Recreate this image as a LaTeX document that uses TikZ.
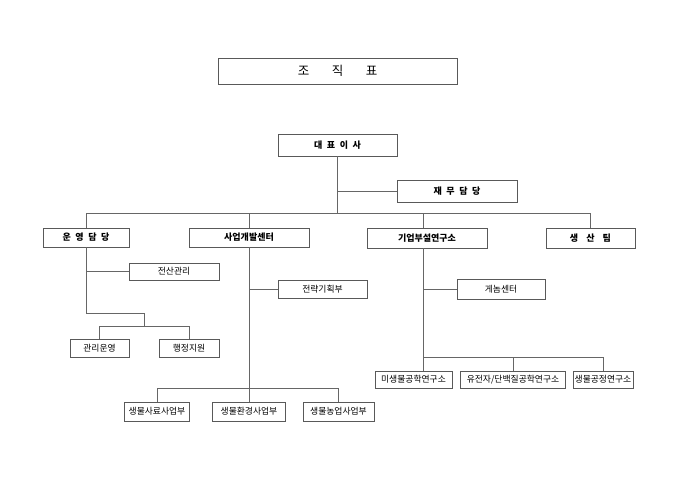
\documentclass[tikz,border=0pt]{standalone}
\usepackage{fontspec}
\setmainfont{Noto Sans CJK KR}
\usetikzlibrary{shadows}
\newcommand{\wsp}{\hspace{0.5em}}

\begin{document}
\begin{tikzpicture}[x=1pt, y=-1pt,
	box/.style={draw=black!65, line width=0.5pt, fill=white, inner sep=0pt,
		drop shadow={shadow xshift=0.7pt, shadow yshift=-0.7pt, opacity=1, fill=black!80}},
	head/.style={box, font=\fontsize{9}{10}\selectfont\bfseries},
	unit/.style={box, font=\fontsize{8.8}{10}\selectfont},
	link/.style={draw=black!60, line width=0.6pt}]
	\useasboundingbox (0,0) rectangle (680,481);
	
	\node[box, minimum width=239pt, minimum height=26pt, font=\fontsize{12.5}{14}\selectfont] (title) at (337.5,71) {조\hspace{1.8em}직\hspace{1.8em}표};
	
	\node[head, minimum width=119pt, minimum height=22pt] (ceo) at (337.5,145) {대\wsp 표\wsp 이\wsp 사};
	\node[head, minimum width=120pt, minimum height=22pt] (fin) at (457,191) {재\wsp 무\wsp 담\wsp 당};
	
	\node[head, minimum width=86pt, minimum height=19pt] (ops) at (86,237.5) {운\wsp 영\wsp 담\wsp 당};
	\node[head, minimum width=120pt, minimum height=19pt] (biz) at (249,237.5) {사업개발센터};
	\node[head, minimum width=120pt, minimum height=20pt] (lab) at (427,238) {기업부설연구소};
	\node[head, minimum width=89pt, minimum height=20pt] (prod) at (590.5,238) {생\hspace{0.9em}산\hspace{0.9em}팀};
	
	\node[unit, minimum width=90pt, minimum height=17pt] (it) at (174,271.5) {전산관리};
	\node[unit, minimum width=59pt, minimum height=18pt] (adm1) at (99.5,348) {관리운영};
	\node[unit, minimum width=60pt, minimum height=18pt] (adm2) at (189,348) {행정지원};
	
	\node[unit, minimum width=89pt, minimum height=18pt] (plan) at (322.5,289) {전략기획부};
	\node[unit, minimum width=65pt, minimum height=19pt] (b1) at (157,411.5) {생물사료사업부};
	\node[unit, minimum width=73pt, minimum height=19pt] (b2) at (249,411.5) {생물환경사업부};
	\node[unit, minimum width=71pt, minimum height=19pt] (b3) at (338.5,411.5) {생물농업사업부};
	
	\node[unit, minimum width=88pt, minimum height=20pt] (genome) at (501,289) {게놈센터};
	\node[unit, minimum width=77pt, minimum height=17pt] (r1) at (413.5,379.5) {미생물공학연구소};
	\node[unit, minimum width=105pt, minimum height=17pt] (r2) at (513,379.5) {유전자/단백질공학연구소};
	\node[unit, minimum width=60pt, minimum height=17pt] (r3) at (603,379.5) {생물공정연구소};
	
	% top level
	\coordinate (bus) at (0,213);
	\draw[link] (ceo.south) -- (ceo.south |- bus);
	\draw[link] (fin.west) -- (fin.west -| ceo.south);
	\draw[link] (ops.north) |- (prod.north |- bus) -- (prod.north);
	\draw[link] (biz.north) -- (biz.north |- bus);
	\draw[link] (lab.north -| 423,0) -- (423,213);
	
	% operations
	\coordinate (opsj) at (86,313);
	\coordinate (admj) at (144,313);
	\draw[link] (ops.south) -- (opsj) -- (admj) -- (admj |- 0,326);
	\draw[link] (adm1.north) |- (adm2.north |- 0,326) -- (adm2.north);
	\draw[link] (it.west) -- (it.west -| ops.south);
	
	% business
	\draw[link] (biz.south) -- (b2.north);
	\draw[link] (plan.west) -- (plan.west -| biz.south);
	\draw[link] (b1.north) |- (b3.north |- 0,388) -- (b3.north);
	
	% research
	\coordinate (labj) at (423,357);
	\draw[link] (lab.south -| labj) -- (labj |- r1.north);
	\draw[link] (genome.west) -- (genome.west -| labj);
	\draw[link] (labj) -| (r3.north);
	\draw[link] (r2.north) -- (r2.north |- labj);
\end{tikzpicture}
\end{document}
